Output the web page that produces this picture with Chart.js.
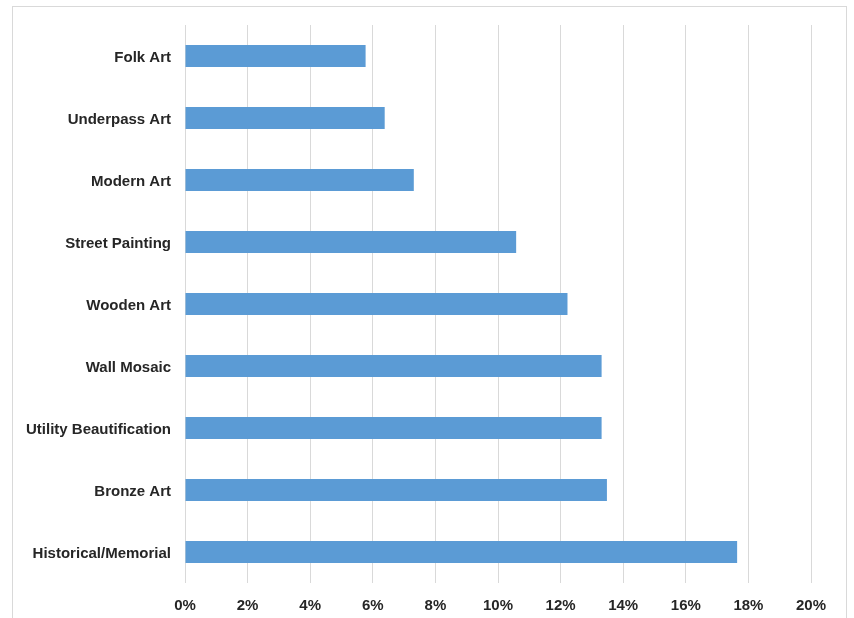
<!DOCTYPE html>
<html>
<head>
<meta charset="utf-8">
<title>Public art by type</title>
<script src="https://cdn.jsdelivr.net/npm/chart.js@4/dist/chart.umd.min.js"></script>
<style>
  html, body { margin: 0; padding: 0; background: #fff; }
  body { width: 854px; height: 618px; position: relative; overflow: hidden; }
  .frame {
    position: absolute; left: 12px; top: 6px;
    width: 833px; height: 640px;
    border: 1px solid #d9d9d9;
  }
  .box { position: absolute; left: 0; top: 0; width: 854px; height: 618px; }
</style>
</head>
<body>
<div class="frame"></div>
<div class="box"><canvas id="chart"></canvas></div>

<script>
// share of works per category, in percent
const categories = [
  'Folk Art',
  'Underpass Art',
  'Modern Art',
  'Street Painting',
  'Wooden Art',
  'Wall Mosaic',
  'Utility Beautification',
  'Bronze Art',
  'Historical/Memorial'
];
const shares = [5.77, 6.38, 7.31, 10.58, 12.22, 13.31, 13.31, 13.48, 17.64];
const tickLabels = ['0%', '2%', '4%', '6%', '8%', '10%', '12%', '14%', '16%', '18%', '20%'];

const barColor = '#5b9bd5';
const gridColor = '#d9d9d9';
const textColor = '#262626';
const labelFont = { family: '"Liberation Sans", Arial, Helvetica, sans-serif', size: 15, weight: 'bold' };

new Chart(document.getElementById('chart').getContext('2d'), {
  type: 'bar',
  data: {
    labels: categories,
    datasets: [{
      data: shares,
      backgroundColor: barColor,
      borderWidth: 0,
      categoryPercentage: 1,
      barPercentage: 0.355
    }]
  },
  options: {
    indexAxis: 'y',
    responsive: true,
    maintainAspectRatio: false,
    animation: false,
    devicePixelRatio: 1,
    layout: { padding: { left: 0, top: 25, right: 43, bottom: 0 } },
    plugins: { legend: { display: false }, tooltip: { enabled: false } },
    scales: {
      x: {
        min: 0,
        max: 20,
        ticks: {
          stepSize: 2,
          padding: 14,
          color: textColor,
          font: labelFont,
          callback: (v, i) => tickLabels[i]
        },
        grid: { color: gridColor, lineWidth: 1, drawTicks: false },
        border: { display: false },
        afterFit: scale => { scale.height = 35; }
      },
      y: {
        ticks: { padding: 14, labelOffset: 2, color: textColor, font: labelFont },
        grid: { display: false, drawTicks: false },
        border: { display: false },
        afterFit: scale => { scale.width = 185; }
      }
    }
  }
});
</script>
</body>
</html>
